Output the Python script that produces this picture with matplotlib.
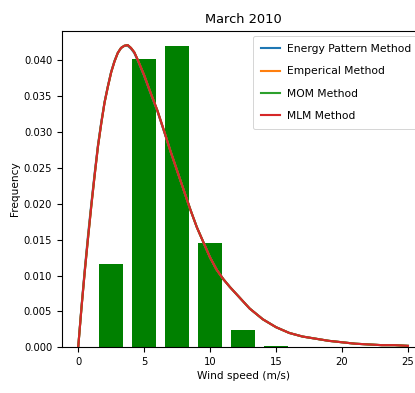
import numpy as np
import matplotlib
matplotlib.use("Agg")
import matplotlib.pyplot as plt

plt.rcParams["font.family"] = ["DejaVu Sans"]
plt.rcParams["font.size"] = 10.5
plt.rcParams["xtick.labelsize"] = 10
plt.rcParams["ytick.labelsize"] = 10
plt.rcParams["lines.linewidth"] = 2.1
plt.rcParams["axes.linewidth"] = 1.1
for ax_name in ("xtick", "ytick"):
    plt.rcParams[ax_name + ".major.width"] = 1.1
    plt.rcParams[ax_name + ".major.size"] = 5
    plt.rcParams[ax_name + ".major.pad"] = 4.5

# Histogram of measured wind speed (bin centres, relative frequency)
bin_centres = [2.5, 5.0, 7.5, 10.0, 12.5, 15.0]
bin_freq = [0.01157, 0.0401, 0.04195, 0.01459, 0.00247, 0.00024]

# Fitted Weibull curves (all four methods nearly coincide)
speed = [0, 0.25, 0.5, 0.75, 1.0, 1.25, 1.5, 1.75, 2.0, 2.25, 2.5, 2.75,
         3.0, 3.25, 3.5, 3.75, 4.0, 4.25, 4.5, 5.0, 5.5, 6.0, 6.5, 7.0, 7.5,
         8.0, 8.5, 9.0, 9.5, 10.0, 10.5, 11.0, 11.5, 12.0, 13.0, 14.0, 15.0,
         16.0, 17.0, 18.0, 19.0, 20.0, 21.0, 22.0, 23.0, 24.0, 25.0]
mlm = [0, 0.0055, 0.0106, 0.0153, 0.0198, 0.0240, 0.0280, 0.0312, 0.0341,
       0.0363, 0.0383, 0.0398, 0.0410, 0.0417, 0.0420, 0.0421, 0.0417,
       0.0411, 0.0401, 0.0379, 0.0354, 0.0330, 0.0302, 0.0273, 0.0246,
       0.0219, 0.0192, 0.0167, 0.0146, 0.0125, 0.0108, 0.0095, 0.0084,
       0.0074, 0.0054, 0.0039, 0.0028, 0.0020, 0.0015, 0.0012, 0.0009,
       0.0007, 0.0005, 0.0004, 0.0003, 0.0003, 0.0002]
energy_pattern = [0, 0.0057, 0.0109, 0.0157, 0.0201, 0.0243, 0.0282, 0.0314,
                  0.0342, 0.0364, 0.0384, 0.0399, 0.0410, 0.0417, 0.0420,
                  0.0420, 0.0416, 0.0410, 0.0400, 0.0378, 0.0353, 0.0329,
                  0.0301, 0.0273, 0.0246, 0.0219, 0.0192, 0.0167, 0.0146,
                  0.0125, 0.0108, 0.0095, 0.0084, 0.0074, 0.0054, 0.0039,
                  0.0028, 0.0020, 0.0015, 0.0012, 0.0009, 0.0007, 0.0005,
                  0.0004, 0.0003, 0.0003, 0.0002]
emperical = mlm
mom = mlm

methods = ["Energy Pattern Method", "Emperical Method", "MOM Method", "MLM Method"]
curves = [energy_pattern, emperical, mom, mlm]

fig = plt.figure(figsize=(415 / 72, 393 / 72), dpi=72)
# axes runs past the right edge of the figure, like in the original crop
ax = fig.add_axes([0.1487, 0.1163, 0.874, 0.8056])

ax.bar(bin_centres, bin_freq, width=1.8, color="green")
for name, vals in zip(methods, curves):
    ax.plot(speed, vals, label=name)

ax.set_xlim(-1.25, 26.25)
ax.set_ylim(0, 0.0441)
ax.set_yticks(np.arange(0, 0.041, 0.005))
ax.set_title("March 2010", fontsize=13, pad=8)
ax.set_xlabel("Wind speed (m/s)")
ax.set_ylabel("Frequency")
ax.legend(loc="upper right", fontsize=10.8, handlelength=1.75,
          labelspacing=1.13, handletextpad=0.6, borderpad=0.75,
          borderaxespad=0.5)

fig.savefig("out.png", dpi=72)
